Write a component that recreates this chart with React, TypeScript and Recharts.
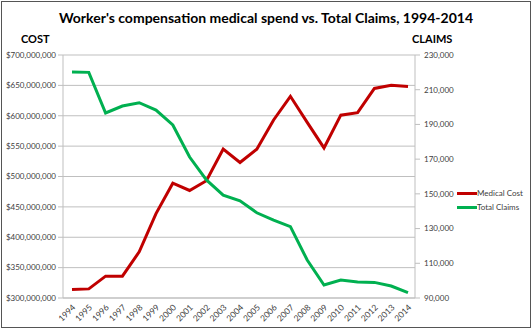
import React from 'react';
import { LineChart, Line, XAxis, YAxis, CartesianGrid } from 'recharts';

const years = ['1994', '1995', '1996', '1997', '1998', '1999', '2000', '2001', '2002', '2003', '2004', '2005', '2006', '2007', '2008', '2009', '2010', '2011', '2012', '2013', '2014'];
const medicalCost = [314e6, 315e6, 336e6, 336e6, 376e6, 439e6, 489e6, 477e6, 493e6, 545e6, 523e6, 545e6, 593e6, 632e6, 589e6, 547e6, 601e6, 605e6, 645e6, 650e6, 648e6];
const totalClaims = [220200, 220000, 196600, 200600, 202500, 198300, 189700, 171200, 158000, 149300, 146000, 139100, 134900, 131100, 111900, 97500, 100400, 99200, 99000, 96900, 93100];
const costTicks = [300e6, 350e6, 400e6, 450e6, 500e6, 550e6, 600e6, 650e6, 700e6];
const claimTicks = [90000, 110000, 130000, 150000, 170000, 190000, 210000, 230000];

const data = years.map((y, i) => ({ year: y, cost: medicalCost[i], claims: totalClaims[i] }));

const FONT = 'Lato, "Liberation Sans", sans-serif';
const RED = '#C00000';
const GREEN = '#00B050';
const GRID = '#BFBFBF';

const XTick = (props: any) => {
  const { x, y, payload } = props;
  return (
    <g transform={`translate(${x + 4},${y + 10})`}>
      <text x={0} y={0} textAnchor="end" transform="rotate(-45)" fontSize={8.5} fill="#404040" fontFamily={FONT}>
        {payload.value}
      </text>
    </g>
  );
};

export default function App() {
  return (
    <div style={{ position: 'absolute', left: 0, top: 0, width: 532, height: 330, background: '#fff', fontFamily: FONT }}>
      <div style={{ position: 'absolute', left: 1, top: 1, width: 528, height: 325, border: '1px solid #555' }} />
      <div style={{ position: 'absolute', left: 0, top: 9, width: 532, textAlign: 'center', fontSize: 14, fontWeight: 'bold', color: '#000', lineHeight: '18px' }}>
        Worker's compensation medical spend vs. Total Claims, 1994-2014
      </div>
      <div style={{ position: 'absolute', left: 21, top: 32, fontSize: 11, fontWeight: 'bold', color: '#000', lineHeight: '14px' }}>COST</div>
      <div style={{ position: 'absolute', left: 412, top: 32, fontSize: 11, fontWeight: 'bold', color: '#000', lineHeight: '14px' }}>CLAIMS</div>
      <LineChart width={532} height={330} data={data} margin={{ top: 55, right: 57, left: 0, bottom: 0 }}>
        <CartesianGrid yAxisId="left" vertical={false} stroke={GRID} strokeWidth={1} />
        <XAxis
          dataKey="year"
          height={32}
          padding={{ left: 9, right: 7 }}
          interval={0}
          tickLine={false}
          tickSize={0}
          tickMargin={0}
          axisLine={{ stroke: GRID }}
          tick={<XTick />}
        />
        <YAxis
          yAxisId="left"
          width={63}
          domain={[300e6, 700e6]}
          ticks={costTicks}
          interval={0}
          tickSize={5}
          tickMargin={2}
          axisLine={{ stroke: GRID }}
          tickLine={{ stroke: GRID }}
          tick={{ fontSize: 8, fill: '#404040', fontFamily: FONT }}
          tickFormatter={(v: number) => '$' + v.toLocaleString('en-US')}
        />
        <YAxis
          yAxisId="right"
          orientation="right"
          width={60}
          domain={[90000, 230000]}
          ticks={claimTicks}
          interval={0}
          tickSize={5}
          tickMargin={4}
          axisLine={{ stroke: GRID }}
          tickLine={{ stroke: GRID }}
          tick={{ fontSize: 8, fill: '#404040', fontFamily: FONT }}
          tickFormatter={(v: number) => v.toLocaleString('en-US')}
        />
        <Line yAxisId="left" dataKey="cost" stroke={RED} strokeWidth={3} dot={false} isAnimationActive={false} strokeLinejoin="miter" />
        <Line yAxisId="right" dataKey="claims" stroke={GREEN} strokeWidth={3} dot={false} isAnimationActive={false} strokeLinejoin="miter" />
      </LineChart>
      <div style={{ position: 'absolute', left: 457, top: 186, fontSize: 8, color: '#404040', lineHeight: '14px' }}>
        <div style={{ display: 'flex', alignItems: 'center', height: 14 }}>
          <span style={{ display: 'inline-block', width: 20, height: 3, background: RED }} />
          <span>Medical Cost</span>
        </div>
        <div style={{ display: 'flex', alignItems: 'center', height: 14 }}>
          <span style={{ display: 'inline-block', width: 20, height: 3, background: GREEN }} />
          <span>Total Claims</span>
        </div>
      </div>
    </div>
  );
}
